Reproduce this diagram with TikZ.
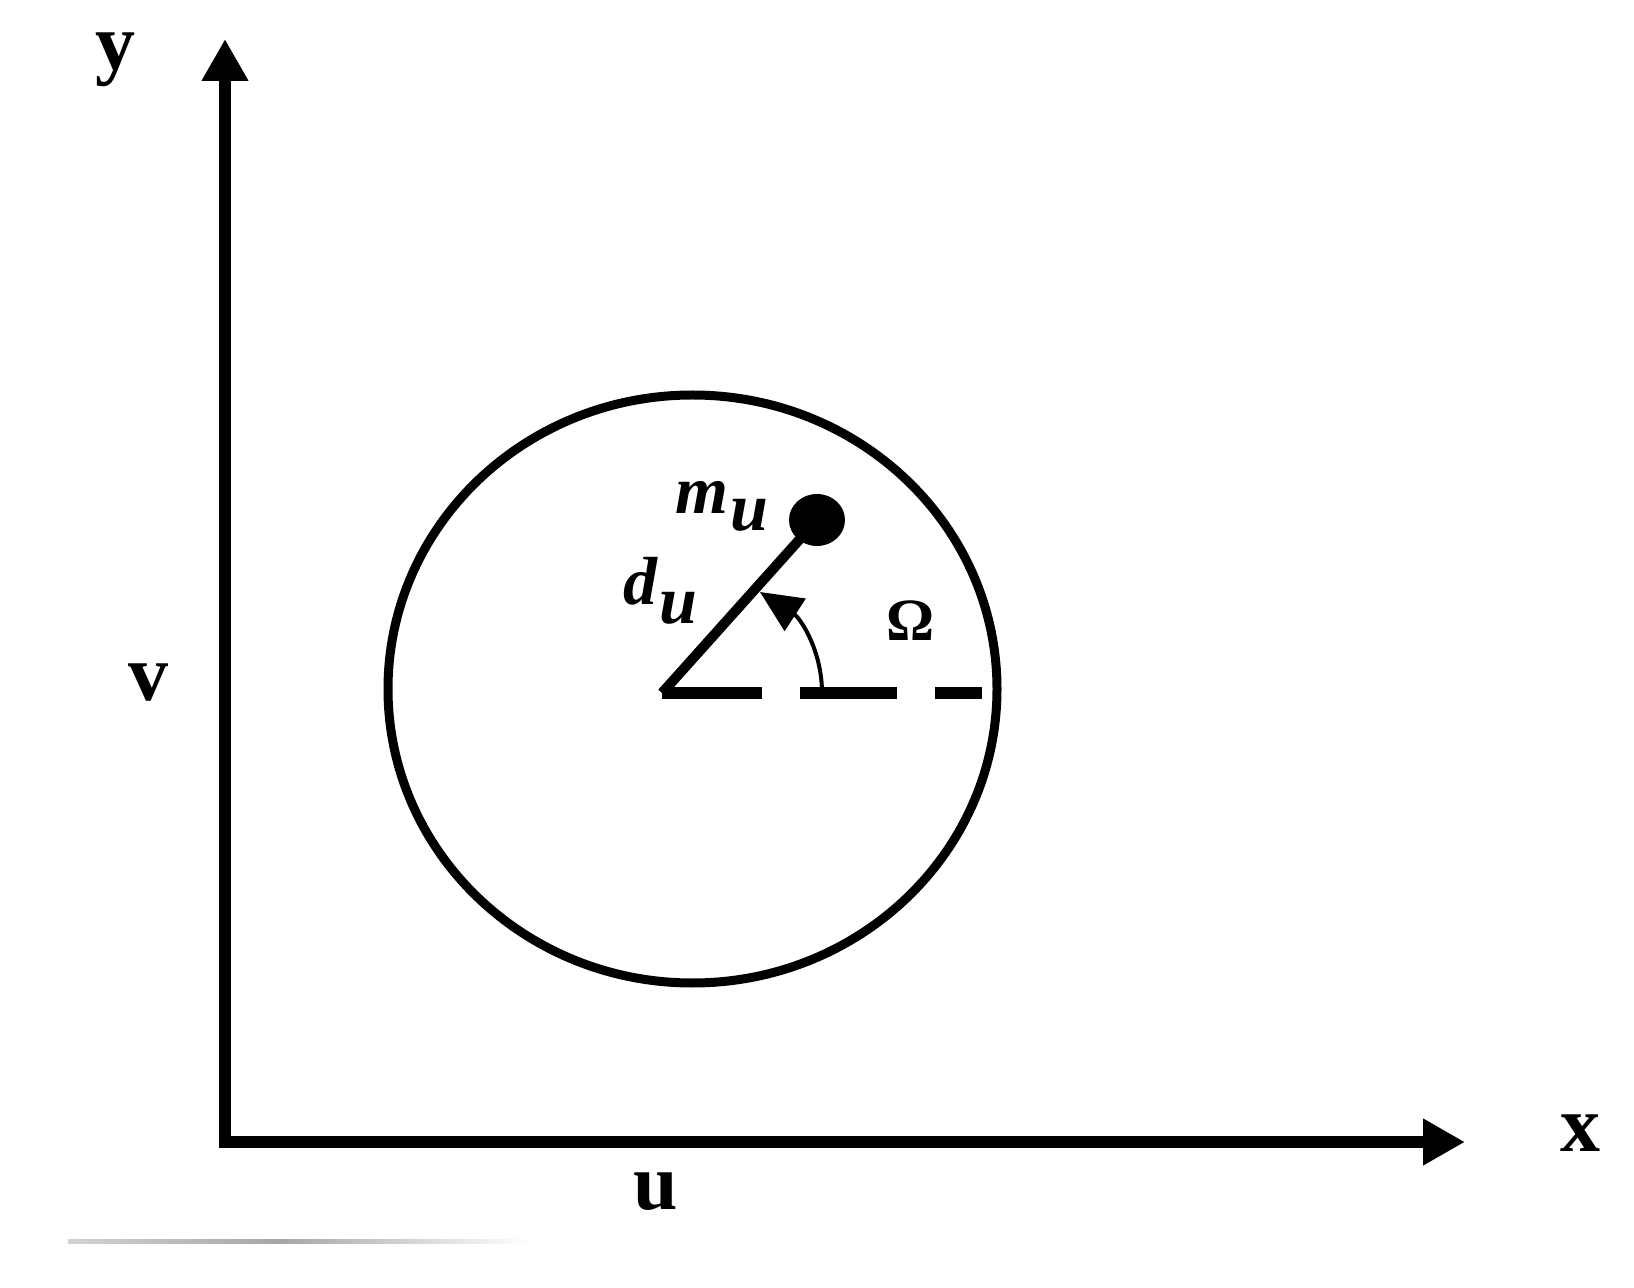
\documentclass[tikz,border=0pt]{standalone}
\usepackage{fontspec}
\setmainfont{Liberation Serif}
\usetikzlibrary{arrows.meta}
\tikzset{
  axis/.style={line width=6pt, line join=miter, {Triangle[length=21pt,width=22pt]}-{Triangle[length=21pt,width=22pt]}},
  lbl/.style={inner sep=0pt, font=\fontsize{40}{44}\selectfont\bfseries},
  mlbl/.style={inner sep=0pt, font=\fontsize{34}{38}\selectfont\bfseries\itshape},
}
\begin{document}
\begin{tikzpicture}[x=0.5pt,y=-0.5pt]
\useasboundingbox (0,0) rectangle (1634,1288);
% axes
\coordinate (O) at (225,1142);
\coordinate (Ytip) at (225,39);
\coordinate (Xtip) at (1465,1142);
\draw[axis] (Ytip) -- (O) -- (Xtip);
% labels of axes
\node[lbl] (ylab) at (115,60) {y};
\node[lbl] (vlab) at (148,683) {v};
\node[lbl] (xlab) at (1580,1133) {x};
\node[lbl] (ulab) at (656,1192) {u};
% circle
\coordinate (C) at (692.5,689);
\draw[line width=4.5pt] (C) ellipse [x radius=304.5, y radius=294];
% radius and mass
\coordinate (P) at (662,693);
\coordinate (M) at (817,520);
\draw[line width=5pt] (P) -- (M);
\fill (M) ellipse [x radius=28, y radius=26];
% dashed reference line
\coordinate (E) at (982,693);
\draw[line width=6pt, dash pattern=on 50pt off 19pt on 48.5pt off 19pt on 30pt] (P) -- (E);
% angle arrow
\coordinate (A0) at (822,693);
\coordinate (A1) at (760,592);
\draw[line width=2pt, -{Triangle[length=21pt,width=19pt]}] (A0) .. controls (822,650) and (800,618) .. (A1);
% labels
\node[mlbl] (mlab) at (722,506) {m\kern1pt\raisebox{-0.55ex}{u}};
\node[mlbl] (dlab) at (660,591) {d\kern1pt\raisebox{-0.6ex}{u}};
\node[lbl, font=\fontsize{30}{34}\selectfont\bfseries] (om) at (911,621) {Ω};
% faint scan line at the bottom
\shade[left color=gray!35, right color=gray!70] (68,1239) rectangle (280,1243);
\shade[left color=gray!70, right color=white] (280,1239) rectangle (530,1243);
\end{tikzpicture}
\end{document}
